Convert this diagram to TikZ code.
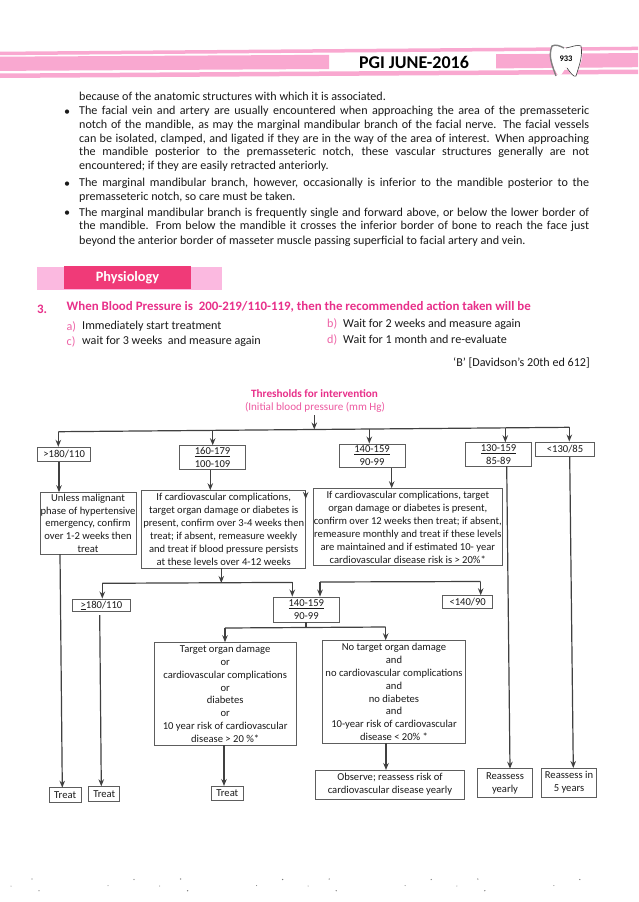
\documentclass[tikz,border=0pt]{standalone}
\usepackage{fontspec}
\setmainfont{Carlito}
\usetikzlibrary{arrows.meta}
\definecolor{hdrpink}{HTML}{F9A8D0}
\definecolor{lightpink}{HTML}{FBB9E0}
\definecolor{deeppink}{HTML}{F03A78}
\definecolor{qpink}{HTML}{E8308A}
\definecolor{inkgrey}{HTML}{404040}
\definecolor{txtc}{HTML}{1A1A1A}
\tikzset{
  x=1pt,y=-1pt,
  fl/.style={draw=inkgrey!85,line width=0.9pt,fill=white,inner sep=0pt,align=center,text=txtc,font=\fontsize{10.6}{12.9}\selectfont},
  conn/.style={draw=inkgrey,line width=1.2pt},
  arr/.style={conn,-{Stealth[length=7pt,width=5.5pt]}},
  bodyl/.style={anchor=west,inner sep=0pt,text=txtc,font=\fontsize{12.1}{13}\selectfont},
  pinkl/.style={anchor=west,inner sep=0pt,text=qpink,font=\bfseries\fontsize{12.9}{14}\selectfont},
  blet/.style={anchor=west,inner sep=0pt,text=qpink!75,font=\fontsize{12.1}{13}\selectfont},
  speck/.style={fill=inkgrey!70},
}
\newcommand{\bx}[6]{\node[fl,minimum width={(#4-#2)*1pt},minimum height={(#5-#3)*1pt}] (#1) at ({(#2+#4)/2},{(#3+#5)/2}) {#6};}
\newcommand{\jl}[3]{\node[bodyl] (#1) at (79,#2) {\hbox to 510pt{#3}};}
\newcommand{\pl}[3]{\node[bodyl] (#1) at (79,#2) {#3};}
\newcommand{\ul}[1]{\underline{#1}}
\begin{document}
\begin{tikzpicture}
\useasboundingbox[fill=white] (0,0) rectangle (638,902);
% header bands
\fill[hdrpink] (0,51.7) -- (638,46.7) -- (638,50.2) -- (0,55.2) -- cycle;
\fill[hdrpink] (0,56.7) -- (329,54.8) -- (329,69) -- (0,70.9) -- cycle;
\fill[hdrpink] (496,54.2) -- (638,53) -- (638,67.2) -- (496,68.4) -- cycle;
\fill[hdrpink] (0,73.5) -- (638,69.5) -- (638,74) -- (0,78) -- cycle;
\node[font=\bfseries\fontsize{18}{20}\selectfont,text=black,inner sep=0pt] (hd) at (414,62) {PGI JUNE-2016};
% tooth
\fill[white] (551,48) .. controls (556,43) and (562,47) .. (566,48) .. controls (571,46) and (579,43) .. (582,49) .. controls (584,60) and (578,68) .. (576,76) .. controls (572,78) and (570,72) .. (566,67) .. controls (563,72) and (560,80) .. (556,72) .. controls (553,65) and (549,58) .. (551,48) -- cycle;
\draw[gray,line width=1.4pt] (556,76) .. controls (552,65) and (548,56) .. (552,46) .. controls (556,44) and (560,46) .. (564,48);
\draw[inkgrey,line width=0.6pt] (566,48) .. controls (572,47) and (578,44) .. (581,46) .. controls (583,56) and (579,66) .. (576,76) .. controls (574,78) and (570,72) .. (567,68);
\node[font=\bfseries\fontsize{8.5}{9}\selectfont,inner sep=0pt] (pg) at (566,59) {933};
% body text
\pl{l0}{96}{because of the anatomic structures with which it is associated.}
\node[bodyl] (b1) at (64,112.5) {•};
\jl{l1}{111.3}{The facial vein and artery are usually encountered when approaching the area of the premasseteric}
\jl{l2}{125.3}{notch of the mandible, as may the marginal mandibular branch of the facial nerve. The facial vessels}
\jl{l3}{139.0}{can be isolated, clamped, and ligated if they are in the way of the area of interest. When approaching}
\jl{l4}{152.7}{the mandible posterior to the premasseteric notch, these vascular structures generally are not}
\pl{l5}{166.7}{encountered; if they are easily retracted anteriorly.}
\node[bodyl] (b2) at (64,184.3) {•};
\jl{l6}{183}{The marginal mandibular branch, however, occasionally is inferior to the mandible posterior to the}
\pl{l7}{197.5}{premasseteric notch, so care must be taken.}
\node[bodyl] (b3) at (64,214) {•};
\jl{l8}{213}{The marginal mandibular branch is frequently single and forward above, or below the lower border of}
\jl{l9}{226.7}{the mandible. From below the mandible it crosses the inferior border of bone to reach the face just}
\pl{l10}{241}{beyond the anterior border of masseter muscle passing superficial to facial artery and vein.}
% Physiology banner
\fill[lightpink] (37,267) rectangle (222,290);
\fill[deeppink] (64,266) rectangle (191,289);
\node[font=\bfseries\fontsize{14.3}{16}\selectfont,text=white,inner sep=0pt] (ph) at (127.5,278) {Physiology};
% question
\node[pinkl] (q3) at (37,309.3) {3.};
\node[pinkl] (q) at (66.5,306.5) {When Blood Pressure is\ \ 200-219/110-119, then the recommended action taken will be};
\node[blet] (oa) at (66.5,326.5) {a)};
\node[bodyl] (ta) at (82,326.5) {Immediately start treatment};
\node[blet] (oc) at (66.5,341.5) {c)};
\node[bodyl] (tc) at (82,341.5) {wait for 3 weeks\ \ and measure again};
\node[blet] (ob) at (327,324) {b)};
\node[bodyl] (tb) at (343,324) {Wait for 2 weeks and measure again};
\node[blet] (od) at (327,339.5) {d)};
\node[bodyl] (td) at (343,339.5) {Wait for 1 month and re-evaluate};
\node[bodyl,anchor=east] (ref) at (590,363) {‘B’ [Davidson’s 20th ed 612]};
% title
\node[text=qpink,font=\bfseries\fontsize{11.2}{12}\selectfont,inner sep=0pt] (t1) at (314.5,394) {Thresholds for intervention};
\node[text=qpink!80,font=\fontsize{11.1}{12}\selectfont,inner sep=0pt] (t2) at (315,407.5) {(Initial blood pressure (mm Hg)};
% boxes
\bx{a1}{37.7}{447.3}{90.7}{461.7}{>180/110}
\bx{bb}{179.3}{445.7}{245.7}{469.3}{\ul{160-179}\\100-109}
\bx{cc}{339}{444}{405}{467.7}{\ul{140-159}\\90-99}
\bx{ee}{465.3}{442.7}{531.7}{466}{\ul{130-159}\\85-89}
\bx{ff}{535.7}{442}{594.3}{456.7}{<130/85}
\bx{a2}{40}{492.7}{136}{554}{Unless malignant\\phase of hypertensive\\emergency, confirm\\over 1-2 weeks then\\treat}
\bx{b2x}{141.7}{490.7}{305.7}{568}{If cardiovascular complications,\\target organ damage or diabetes is\\present, confirm over 3-4 weeks then\\treat; if absent, remeasure weekly\\and treat if blood pressure persists\\at these levels over 4-12 weeks}
\bx{c2}{313.3}{488.7}{502.3}{565.7}{If cardiovascular complications, target\\organ damage or diabetes is present,\\confirm over 12 weeks then treat; if absent,\\remeasure monthly and treat if these levels\\are maintained and if estimated 10- year\\cardiovascular disease risk is > 20\%*}
\bx{c1}{72.7}{599}{130.3}{611.7}{\ul{>}180/110}
\bx{d1}{273.3}{597}{339.3}{622}{\ul{140-159}\\90-99}
\bx{g1}{442.7}{595.7}{492.7}{608}{<140/90}
\bx{h1}{154.3}{642.7}{296}{745}{Target organ damage\\or\\cardiovascular complications\\or\\diabetes\\or\\10 year risk of cardiovascular\\disease > 20 \%*}
\bx{i1}{322.7}{640.7}{465.3}{743.3}{No target organ damage\\and\\no cardiovascular complications\\and\\no diabetes\\and\\10-year risk of cardiovascular\\disease < 20\% *}
\bx{tr1}{49.3}{787.7}{81}{802.3}{Treat}
\bx{tr2}{88.7}{786.3}{119.7}{801.7}{Treat}
\bx{tr3}{211.7}{786}{243}{800.7}{Treat}
\bx{ob1}{315.7}{770}{464.3}{799}{Observe; reassess risk of\\cardiovascular disease yearly}
\bx{re1}{477.3}{768.7}{532.7}{797.7}{Reassess\\yearly}
\bx{re2}{541.7}{768}{596.3}{797}{Reassess in\\5 years}
% top bus
\coordinate (busL) at (58.3,431.7);
\coordinate (busB) at (212.7,430.4);
\coordinate (busT) at (314.3,429.5);
\coordinate (busC) at (369.3,428.8);
\coordinate (busE) at (505.3,427.8);
\coordinate (busR) at (569.3,427.3);
\coordinate (tS) at (314.3,415);
\draw[conn] (busL) -- (busR);
\draw[arr] (tS) -- (busT);
\draw[arr] (busL) -- (busL |- a1.north);
\draw[arr] (busB) -- (busB |- bb.north);
\draw[arr] (busC) -- (busC |- cc.north);
\draw[arr] (busE) -- (busE |- ee.north);
\draw[arr] (busR) -- (busR |- ff.north);
% second row
\coordinate (ax) at (59,0);
\coordinate (bx) at (210.3,0);
\coordinate (cx) at (391.7,0);
\draw[arr] (ax |- a1.south) -- (ax |- a2.north);
\draw[arr] (bx |- bb.south) -- (bx |- b2x.north);
\draw[arr] (cx |- cc.south) -- (cx |- c2.north);
\coordinate (kn) at (305.7,490.7);
\coordinate (knE) at (305.7,499);
\draw[arr] (kn) -- (knE);
% bus 2
\coordinate (bus2L) at (102.3,583.3);
\coordinate (bus2M) at (221.3,583);
\coordinate (bus2R) at (292.3,582.4);
\draw[conn] (bus2L) -- (bus2R);
\draw[arr] (bus2M |- b2x.south) -- (bus2M);
\draw[arr] (bus2L) -- (bus2L |- c1.north);
\draw[arr] (bus2R) -- (bus2R |- d1.north);
% bus 3
\coordinate (bus3L) at (320,582);
\coordinate (bus3R) at (480.7,581.5);
\draw[conn] (bus3L) -- (bus3R);
\draw[arr] (bus3L) -- (bus3L |- d1.north);
\draw[arr] (bus3R) -- (bus3R |- g1.north);
% bus 4
\coordinate (bus4L) at (225,628);
\coordinate (bus4R) at (385.7,627);
\coordinate (bus4M) at (306,627.5);
\draw[conn] (bus4L) -- (bus4R);
\draw[conn] (bus4M |- d1.south) -- (bus4M);
\draw[arr] (bus4L) -- (bus4L |- h1.north);
\draw[arr] (bus4R) -- (bus4R |- i1.north);
% long arrows
\coordinate (s1) at (60,554);
\coordinate (e1) at (62.3,787.7);
\draw[arr] (s1) -- (e1);
\coordinate (s2) at (99.7,615);
\coordinate (e2) at (101.3,786.3);
\draw[arr] (s2) -- (e2);
\coordinate (s3) at (224,745);
\coordinate (e3) at (224,786);
\draw[arr] (s3) -- (e3);
\coordinate (s4) at (386,743.3);
\coordinate (e4) at (386,770);
\draw[arr] (s4) -- (e4);
\coordinate (s5) at (506.7,466);
\coordinate (e5) at (510,768.7);
\draw[arr] (s5) -- (e5);
\coordinate (s6) at (569.7,456.7);
\coordinate (e6) at (573.3,768);
\draw[arr] (s6) -- (e6);
% scan specks along the foot of the page
\foreach \o in {0,148.6,297.2,445.8}{
  \fill[speck] (32+\o,879) circle (0.7);
  \fill[speck] (39+\o,890.7) circle (0.7);
  \fill[speck] (11+\o,886) circle (0.5);
  \fill[speck] (108+\o,885.5) circle (0.5);
  \fill[speck] (134+\o,879.5) circle (0.7);
}
\end{tikzpicture}
\end{document}
